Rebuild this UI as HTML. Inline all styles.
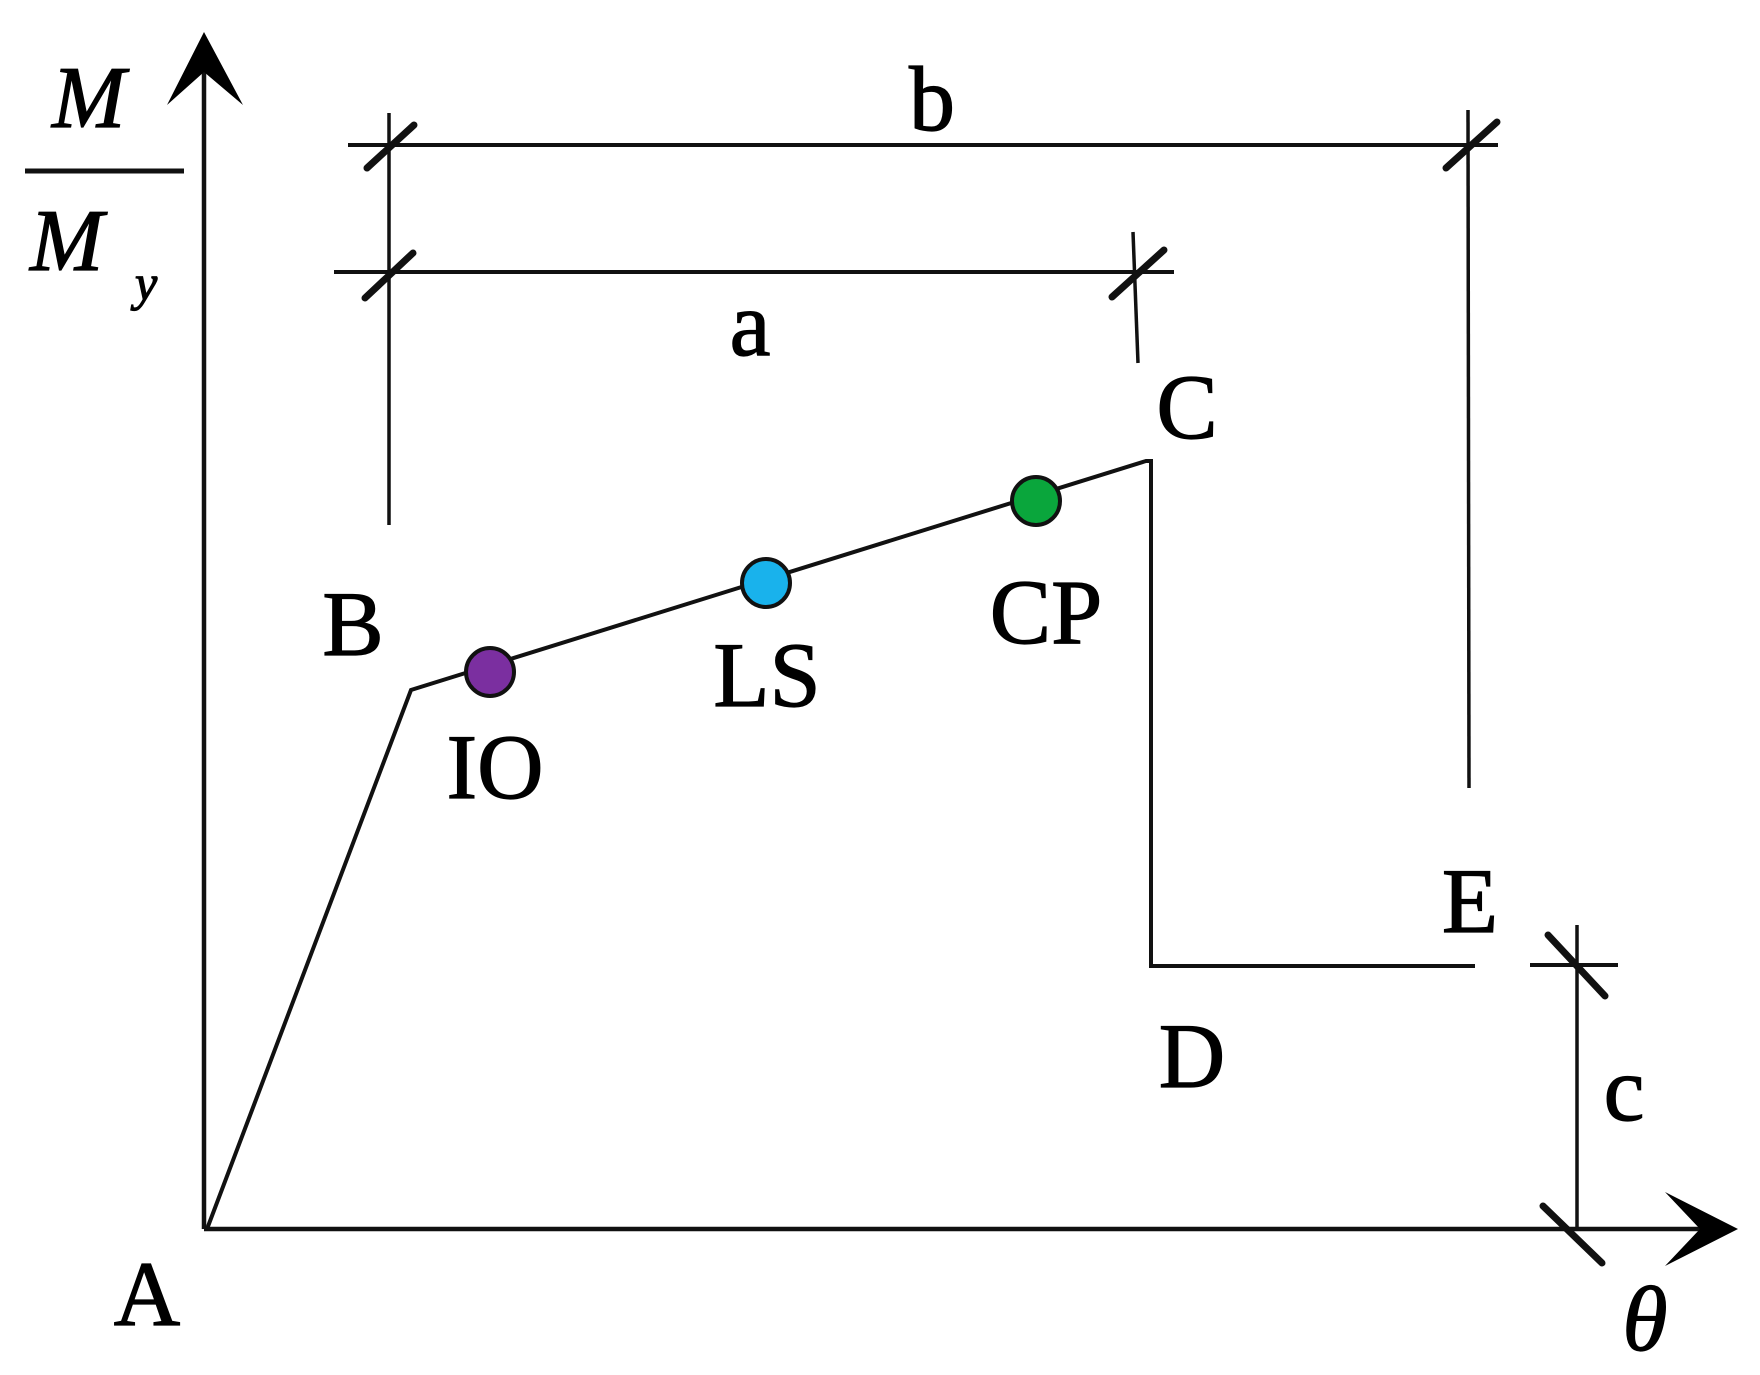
<!DOCTYPE html>
<html><head><style>html,body{margin:0;padding:0;background:#fff;}svg{display:block}</style></head>
<body>
<svg width="1760" height="1375" viewBox="0 0 1760 1375" xmlns="http://www.w3.org/2000/svg">
<g stroke="#111" stroke-width="4.5" fill="none" stroke-linecap="butt">
<line x1="204" y1="1229" x2="204" y2="60"/>
<line x1="204" y1="1229" x2="1710" y2="1229"/>
<polyline points="207,1229 411,690 1146,461 1151,461 1151,966 1475,966" stroke-width="4"/>
<line x1="348" y1="145" x2="1498" y2="145" stroke-width="4"/>
<line x1="389" y1="113" x2="389" y2="525" stroke-width="3.5"/>
<line x1="1468" y1="110" x2="1469" y2="788" stroke-width="3.5"/>
<line x1="334" y1="272" x2="1174" y2="272" stroke-width="4"/>
<line x1="1133" y1="232" x2="1138" y2="363" stroke-width="3.5"/>
<line x1="1577" y1="925" x2="1577" y2="1229" stroke-width="3.5"/>
<line x1="1530" y1="965" x2="1618" y2="965" stroke-width="4"/>
</g>
<g stroke="#111" stroke-width="7" stroke-linecap="round">
<line x1="367" y1="168" x2="414" y2="125"/>
<line x1="365" y1="298" x2="413" y2="253"/>
<line x1="1112" y1="297" x2="1164" y2="250"/>
<line x1="1446" y1="168" x2="1497" y2="122"/>
<line x1="1548" y1="935" x2="1605" y2="996"/>
<line x1="1543" y1="1206" x2="1602" y2="1263"/>
</g>
<path d="M204 32 L243 105 L204 72 L167 105 Z" fill="#000"/>
<path d="M1738 1229 L1665 1192 L1700 1229 L1665 1266 Z" fill="#000"/>
<line x1="25" y1="171" x2="184" y2="171" stroke="#111" stroke-width="5"/>
<g stroke="#111" stroke-width="4">
<circle cx="490" cy="672" r="24" fill="#7b2fa0"/>
<circle cx="766" cy="583" r="24" fill="#19b2ec"/>
<circle cx="1036" cy="501" r="24" fill="#0aa63c"/>
</g>
<g font-family="Liberation Serif, serif" font-size="92" fill="#000" stroke="#000" stroke-width="1.2">
<text x="52" y="127" font-style="italic" font-size="88">M</text>
<text x="30" y="270" font-style="italic" font-size="88">M</text>
<text x="135" y="300" font-style="italic" font-size="50">y</text>
<text x="932" y="130" text-anchor="middle">b</text>
<text x="750" y="355" text-anchor="middle">a</text>
<text x="1187" y="438" text-anchor="middle">C</text>
<text x="353" y="655" text-anchor="middle">B</text>
<text x="495" y="798" text-anchor="middle">IO</text>
<text x="767" y="706" text-anchor="middle">LS</text>
<text x="1046" y="643" text-anchor="middle">CP</text>
<text x="1470" y="932" text-anchor="middle">E</text>
<text x="1192" y="1087" text-anchor="middle">D</text>
<text x="1624" y="1120" text-anchor="middle">c</text>
<text x="147" y="1325" text-anchor="middle">A</text>
<text x="1645" y="1350" text-anchor="middle" font-style="italic">θ</text>
</g>
</svg>
</body></html>
